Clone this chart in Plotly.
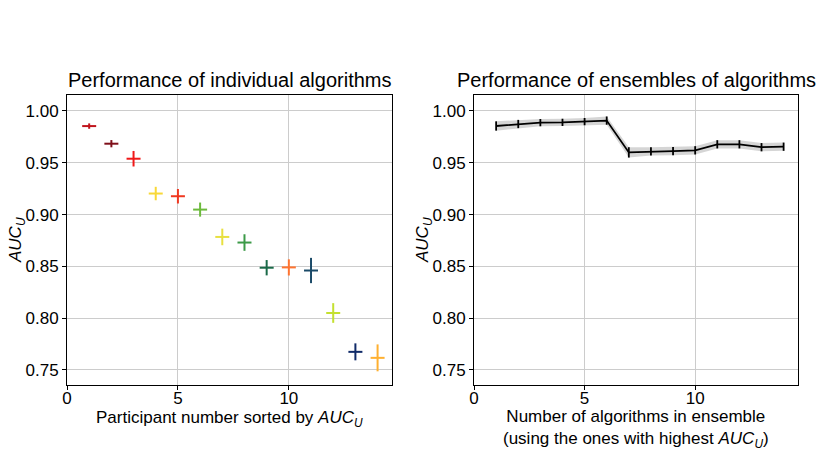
import plotly.graph_objects as go

## données : performances individuelles
participants = list(range(1, 15))
auc_indiv = [0.9854, 0.9684, 0.9539, 0.9203, 0.9177, 0.9048, 0.8784,
             0.8730, 0.8487, 0.8490, 0.8460, 0.8050, 0.7675, 0.7617]
err_indiv = [0.0026, 0.0035, 0.0075, 0.0065, 0.0070, 0.0068, 0.0080,
             0.0080, 0.0074, 0.0078, 0.0122, 0.0095, 0.0082, 0.0130]
colors_indiv = ['#c0141c', '#7f0f1a', '#f01818', '#f8d838', '#f03820', '#6cba3c', '#e8e040',
                '#3c9a48', '#1a6a48', '#ff7430', '#1a4a68', '#c4e030', '#102a68', '#ffb030']

## données : performances des ensembles
n_algos = list(range(1, 15))
auc_ens = [0.9855, 0.9874, 0.9887, 0.9890, 0.9897, 0.9907, 0.9600,
           0.9610, 0.9613, 0.9620, 0.9678, 0.9678, 0.9650, 0.9655]
err_ens = [0.0045, 0.0040, 0.0035, 0.0035, 0.0035, 0.0040, 0.0050,
           0.0040, 0.0040, 0.0040, 0.0040, 0.0040, 0.0040, 0.0040]

font = 'Liberation Sans, Arial, sans-serif'
auc_txt = '<i>AUC</i><sub><i>U</i></sub>'

fig = go.Figure()

# un tracé par participant (couleur propre)
for x, y, e, c in zip(participants, auc_indiv, err_indiv, colors_indiv):
    fig.add_trace(go.Scatter(x=[x], y=[y], mode='markers',
                             marker=dict(symbol='line-ew', size=10, color=c,
                                         line=dict(color=c, width=2)),
                             error_y=dict(type='data', array=[e], color=c,
                                          thickness=2, width=0),
                             xaxis='x', yaxis='y', showlegend=False))

# bande grisée des ensembles
upper = [m + e for m, e in zip(auc_ens, err_ens)]
lower = [m - e for m, e in zip(auc_ens, err_ens)]
fig.add_trace(go.Scatter(x=n_algos, y=upper, mode='lines', line=dict(width=0),
                         xaxis='x2', yaxis='y2', showlegend=False, hoverinfo='skip'))
fig.add_trace(go.Scatter(x=n_algos, y=lower, mode='lines', line=dict(width=0),
                         fill='tonexty', fillcolor='rgba(150,150,150,0.4)',
                         xaxis='x2', yaxis='y2', showlegend=False, hoverinfo='skip'))
fig.add_trace(go.Scatter(x=n_algos, y=auc_ens, mode='lines',
                         line=dict(color='black', width=1.8),
                         error_y=dict(type='data', array=err_ens, color='black',
                                      thickness=1.8, width=0),
                         xaxis='x2', yaxis='y2', showlegend=False))

xcommon = dict(range=[0, 14.65], tickvals=[0, 5, 10], showgrid=True, gridcolor='#cccccc',
               gridwidth=1, zeroline=False, showline=True, mirror=True, linecolor='black',
               linewidth=1, ticks='outside', ticklen=4, tickcolor='black', automargin=False,
               ticklabelstandoff=-6, tickfont=dict(size=17, color='black'))
ycommon = dict(range=[0.7355, 1.0154], tickvals=[0.75, 0.80, 0.85, 0.90, 0.95, 1.00],
               tickformat='.2f', showgrid=True, gridcolor='#cccccc', gridwidth=1,
               zeroline=False, showline=True, mirror=True, linecolor='black', linewidth=1,
               ticks='outside', ticklen=4, tickcolor='black', automargin=False,
               tickfont=dict(size=17, color='black'))

## libellés d'axes en annotations (placement précis)
def label(text, ax, **kw):
    return dict(text=text, xref=ax[0] + ' domain', yref=ax[1] + ' domain',
                showarrow=False, font=dict(size=17), **kw)

annotations = [
    dict(text='Performance of individual algorithms', xref='x domain', yref='y domain',
         x=0.5, y=1, yanchor='bottom', yshift=2, showarrow=False, font=dict(size=20)),
    dict(text='Performance of ensembles of algorithms', xref='x2 domain', yref='y2 domain',
         x=0.5, y=1, yanchor='bottom', yshift=2, showarrow=False, font=dict(size=20)),
    label('Participant number sorted by ' + auc_txt, ('x', 'y'),
          x=0.5, y=0, yanchor='middle', yshift=-34),
    label('Number of algorithms in ensemble<br>(using the ones with highest ' + auc_txt + ')',
          ('x2', 'y2'), x=0.5, y=0, yanchor='middle', yshift=-44),
    label(auc_txt, ('x', 'y'), x=0, y=0.5, xanchor='center', xshift=-50, textangle=-90),
    label(auc_txt, ('x2', 'y2'), x=0, y=0.5, xanchor='center', xshift=-50, textangle=-90),
]

# la page ajoute une marge de 8 px autour de la figure : on la compense
fig.update_layout(
    width=822, height=447,
    margin=dict(l=59, r=32, t=87, b=70),
    paper_bgcolor='white', plot_bgcolor='white',
    font=dict(family=font, color='black'),
    xaxis=dict(domain=[0, 0.4446], anchor='y', **xcommon),
    yaxis=dict(domain=[0, 1], anchor='x', **ycommon),
    xaxis2=dict(domain=[0.5568, 1], anchor='y2', **xcommon),
    yaxis2=dict(domain=[0, 1], anchor='x2', **ycommon),
    annotations=annotations,
)

fig.write_html('out.html')
